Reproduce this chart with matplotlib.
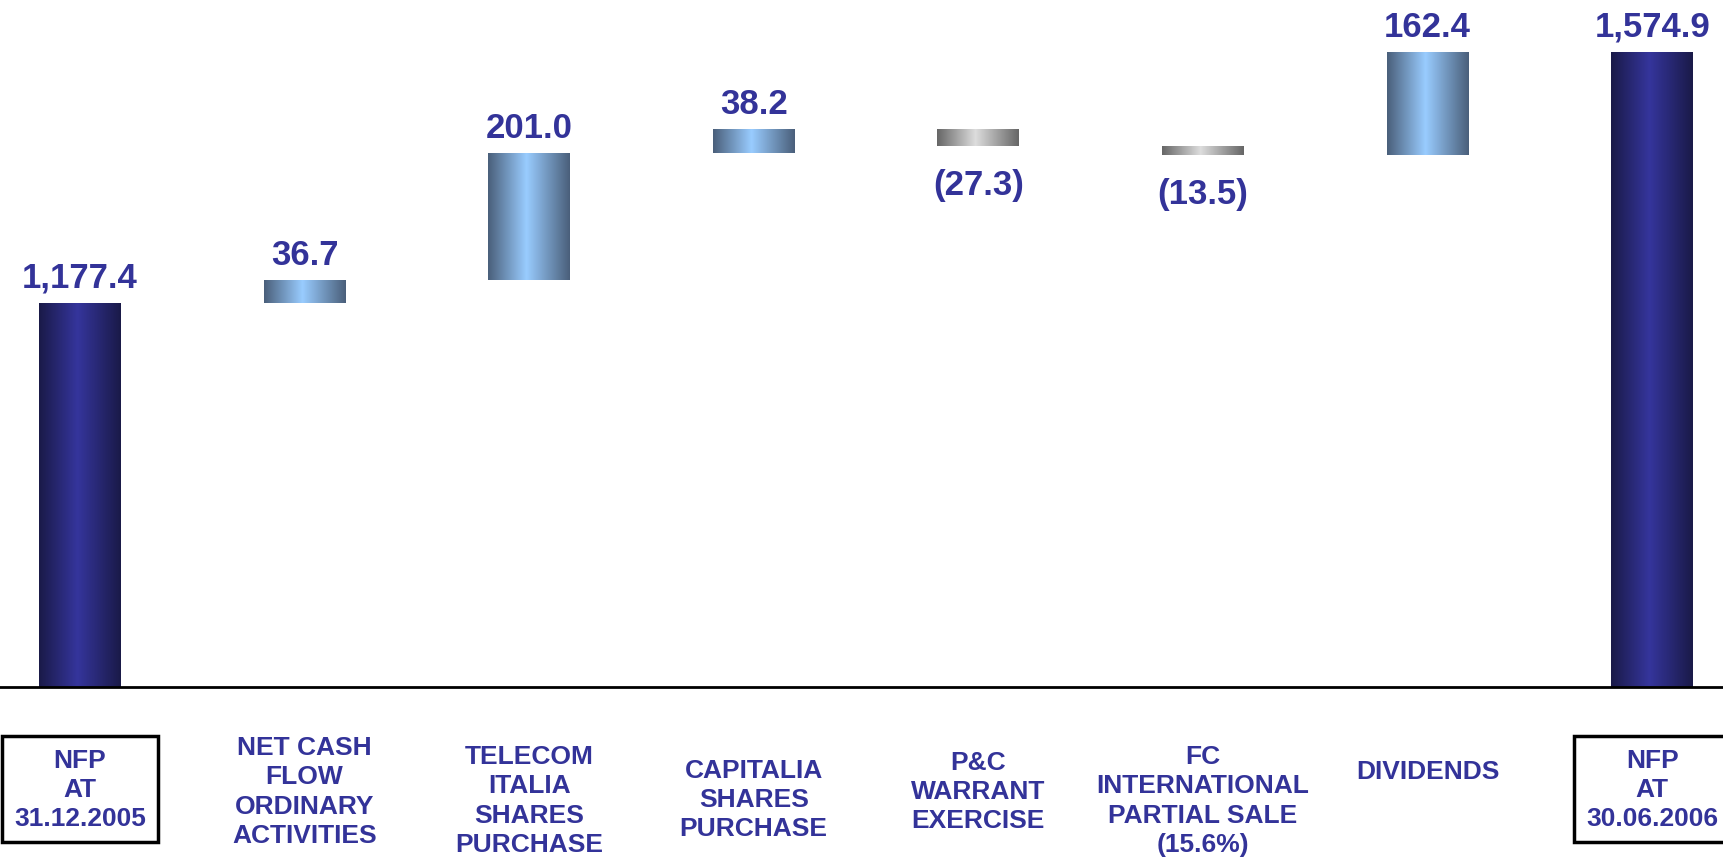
import numpy as np
import matplotlib
matplotlib.use("Agg")
from matplotlib import pyplot as plt
from matplotlib import transforms
from matplotlib.colors import LinearSegmentedColormap

plt.rcParams['font.family'] = ['Liberation Sans', 'DejaVu Sans']
plt.rcParams['font.weight'] = 'bold'

categories = ['NFP\nAT\n31.12.2005', 'NET CASH\nFLOW\nORDINARY\nACTIVITIES',
              'TELECOM\nITALIA\nSHARES\nPURCHASE', 'CAPITALIA\nSHARES\nPURCHASE',
              'P&C\nWARRANT\nEXERCISE', 'FC\nINTERNATIONAL\nPARTIAL SALE\n(15.6%)',
              'DIVIDENDS', 'NFP\nAT\n30.06.2006']
kinds = ['total', 'delta', 'delta', 'delta', 'delta', 'delta', 'delta', 'total']
values = [1177.4, 36.7, 201.0, 38.2, -27.3, -13.5, 162.4, 1574.9]

navy = '#333399'

# waterfall bottoms / heights
bottoms, heights = [], []
level = 0.0
for k, v in zip(kinds, values):
    if k == 'total':
        bottoms.append(0.0)
        heights.append(v)
        level = v
    else:
        bottoms.append(level)
        heights.append(v)
        level += v

fig = plt.figure(figsize=(17.24, 8.62), dpi=100)
ax = fig.add_axes([0, 1 - 688 / 862, 1, 688 / 862])

ymin, ymax = 569.2, 1658.8

x = np.arange(len(values))
bars = ax.bar(x, heights, bottom=bottoms, width=0.365, color='none', zorder=2)

def grad(edge, mid):
    return LinearSegmentedColormap.from_list('g', [(0, edge), (0.47, mid), (1, edge)])

cm_total = grad('#1a1a48', '#35359c')
cm_pos = grad('#4a5f7a', '#99ccff')
cm_neg = grad('#666666', '#dddddd')

row = np.linspace(0, 1, 256).reshape(1, -1)
for rect, k, v in zip(bars, kinds, values):
    x0, w = rect.get_x(), rect.get_width()
    y0, h = rect.get_y(), rect.get_height()
    if k == 'total':
        cm = cm_total
    elif v > 0:
        cm = cm_pos
    else:
        cm = cm_neg
    lo = max(min(y0, y0 + h), ymin)
    hi = max(y0, y0 + h)
    im = ax.imshow(row, cmap=cm, extent=[x0, x0 + w, lo, hi],
                   aspect='auto', zorder=2, interpolation='bilinear')
    im.set_clip_path(rect)

# value labels
for xi, k, v, b, h in zip(x, kinds, values, bottoms, heights):
    if k == 'total':
        txt = '{:,.1f}'.format(v)
    elif v > 0:
        txt = '{:.1f}'.format(v)
    else:
        txt = '({:.1f})'.format(-v)
    if v > 0:
        ax.annotate(txt, (xi, b + h), xytext=(0, 9), textcoords='offset pixels',
                    ha='center', va='bottom', fontsize=25, color=navy, fontweight='bold')
    else:
        ax.annotate(txt, (xi, b + h), xytext=(0, -22), textcoords='offset pixels',
                    ha='center', va='top', fontsize=25, color=navy, fontweight='bold')

ax.set_xlim(-0.356, 7.32)
ax.set_ylim(ymin, ymax)

for s in ['top', 'left', 'right']:
    ax.spines[s].set_visible(False)
ax.spines['bottom'].set_linewidth(2)
ax.set_xticks([])
ax.set_yticks([])

# category labels below the axis
label_y = [790, 792, 801, 800, 792, 801, 772, 790]
trans = transforms.blended_transform_factory(ax.transData, fig.transFigure)
for xi, lab, k, ly in zip(x, categories, kinds, label_y):
    kw = {}
    if k == 'total':
        kw['bbox'] = dict(boxstyle='square,pad=0.45', fc='white', ec='black', lw=2.5)
    ax.text(xi, 1 - ly / 862, lab, transform=trans, ha='center', va='center',
            fontsize=19, color=navy, fontweight='bold', linespacing=1.27,
            clip_on=False, **kw)

fig.savefig('out.png', dpi=100)
